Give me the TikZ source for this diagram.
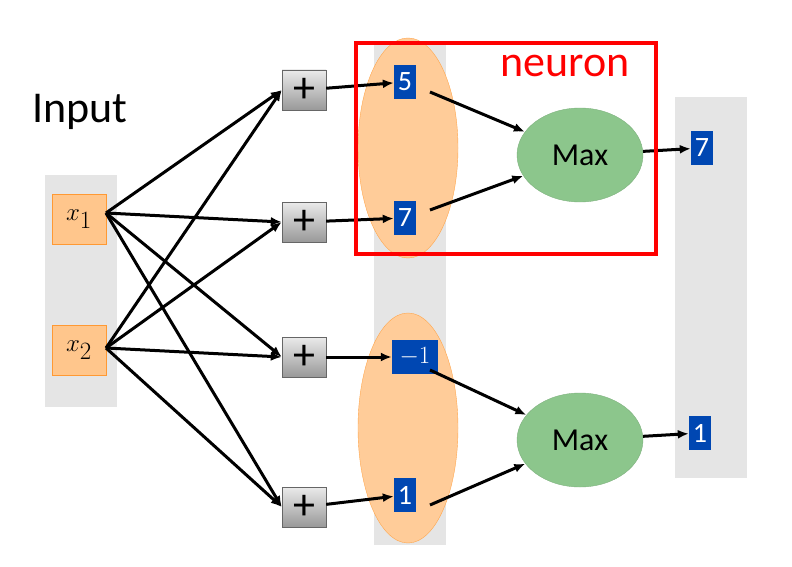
\documentclass[tikz,border=0pt]{standalone}
\usepackage{fontspec}
\setmainfont{Carlito}
\usetikzlibrary{shapes.geometric,arrows.meta}
\begin{document}
\begin{tikzpicture}[x=1pt,y=-1pt,
 gr/.style={fill=black!10,draw=none},
 inp/.style={fill=orange!45,draw=orange!80,minimum width=54pt,minimum height=50pt,inner sep=0pt,font=\fontsize{46}{46}\selectfont},
 plus/.style={draw=black!60,top color=black!8,bottom color=black!40,minimum width=44pt,minimum height=40pt,inner sep=0pt,font=\fontsize{44}{44}\selectfont},
 val/.style={fill=blue!60!cyan!70!black,text=white,minimum width=22pt,minimum height=34pt,inner sep=1pt,font=\fontsize{28}{28}\selectfont\rmfamily},
 mx/.style={ellipse,fill=green!50!black!45,draw=green!40!black!50,minimum width=126pt,minimum height=94pt,font=\fontsize{32}{32}\selectfont},
 ar/.style={-{Latex[length=11pt,width=9pt]},line width=3pt}]
\useasboundingbox (0,0) rectangle (792,567);
\fill[gr] (45,175) rectangle (117,407);
\fill[gr] (374,42) rectangle (446,545);
\fill[gr] (675,97) rectangle (747,478);
\fill[orange!40,draw=orange!70] (408,148) ellipse (50 and 110);
\fill[orange!40,draw=orange!70] (408,428) ellipse (50 and 115);
\node[font=\fontsize{44}{44}\selectfont] (in) at (80,112) {Input};
\node[inp] (x1) at (79,219) {$x_1$};
\node[inp] (x2) at (79,350) {$x_2$};
\node[plus] (p1) at (304,90) {+};
\node[plus] (p2) at (304,222) {+};
\node[plus] (p3) at (304,357) {+};
\node[plus] (p4) at (304,507) {+};
\node[val] (v1) at (405,82) {5};
\node[val] (v2) at (405,218) {7};
\node[val,minimum width=46pt] (v3) at (415,357) {$-1$};
\node[val] (v4) at (405,495) {1};
\node[mx] (m1) at (580,155) {Max};
\node[mx] (m2) at (580,440) {Max};
\node[val] (o1) at (702,148) {7};
\node[val] (o2) at (700,433) {1};
\coordinate (a1) at (106,213);
\coordinate (a2) at (106,348);
\foreach \p in {p1,p2,p3,p4}{\draw[ar] (a1) -- (\p.west); \draw[ar] (a2) -- (\p.west);}
\draw[ar] (p1) -- (v1); \draw[ar] (p2) -- (v2); \draw[ar] (p3) -- (v3); \draw[ar] (p4) -- (v4);
\draw[ar] (430,92) -- (m1); \draw[ar] (430,210) -- (m1);
\draw[ar] (430,370) -- (m2); \draw[ar] (430,505) -- (m2);
\draw[ar] (m1) -- (o1); \draw[ar] (m2) -- (o2);
\draw[red,line width=4pt] (356,43) rectangle (656,254);
\node[red,font=\fontsize{44}{44}\selectfont] (nl) at (565,66) {neuron};
\end{tikzpicture}
\end{document}
